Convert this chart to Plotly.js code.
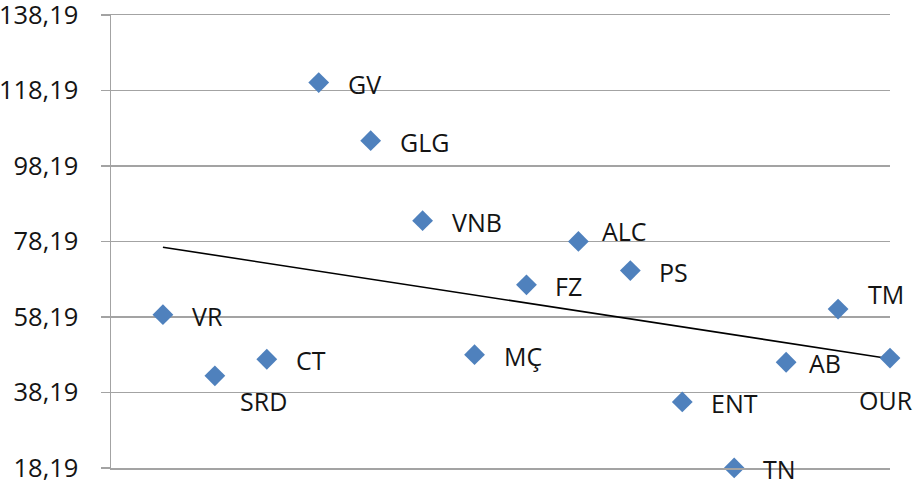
<!DOCTYPE html>
<html>
<head>
<meta charset="utf-8">
<script src="https://cdn.plot.ly/plotly-3.0.1.min.js"></script>
<style>
  html, body { margin: 0; padding: 0; background: #ffffff; }
  #chart { width: 921px; height: 489px; }
</style>
</head>
<body>
<div id="chart"></div>
<script>
// Point labels and their values, in plotting order (x = 1 … 15)
const labels = ['VR', 'SRD', 'CT', 'GV', 'GLG', 'VNB', 'MÇ', 'FZ', 'ALC', 'PS', 'ENT', 'TN', 'AB', 'TM', 'OUR'];
const xPos   = [1, 2, 3, 4, 5, 6, 7, 8, 9, 10, 11, 12, 13, 14, 15];
const values = [58.8, 42.6, 47.0, 120.3, 104.9, 83.7, 48.2, 66.7, 78.2, 70.5, 35.7, 18.2, 46.2, 60.3, 47.3];

// Y axis ticks
const yTicks = [18.19, 38.19, 58.19, 78.19, 98.19, 118.19, 138.19];

// Label placement (pixels from the marker centre; left edge of text, vertical centre)
const defaultOffset = { dx: 29, dy: 1 };
const labelOffsets = {
  'SRD': { dx: 25, dy: 25 },
  'ALC': { dx: 24, dy: -10 },
  'AB':  { dx: 23, dy: 1 },
  'TM':  { dx: 30, dy: -15 },
  'OUR': { dx: -31, dy: 42 }
};

// Least-squares linear trend through the points
function linearFit(xs, ys) {
  const n = xs.length;
  const mx = xs.reduce((a, b) => a + b, 0) / n;
  const my = ys.reduce((a, b) => a + b, 0) / n;
  let sxy = 0, sxx = 0;
  for (let i = 0; i < n; i++) {
    sxy += (xs[i] - mx) * (ys[i] - my);
    sxx += (xs[i] - mx) * (xs[i] - mx);
  }
  const slope = sxy / sxx;
  return { slope: slope, intercept: my - slope * mx };
}
const fit = linearFit(xPos, values);
const trendX = [xPos[0], xPos[xPos.length - 1]];
const trendY = trendX.map(x => fit.intercept + fit.slope * x);

const FONT = '"Open Sans", "Liberation Sans", sans-serif';
const GRID = '#a3a3a3';
const TEXT = '#141414';

const traces = [
  {
    type: 'scatter',
    mode: 'lines',
    x: trendX,
    y: trendY,
    line: { color: '#000000', width: 1.6 },
    hoverinfo: 'skip',
    showlegend: false
  },
  {
    type: 'scatter',
    mode: 'markers',
    x: xPos,
    y: values,
    text: labels,
    marker: { symbol: 'diamond', size: 16, color: '#4f81bd' },
    cliponaxis: false,
    showlegend: false
  }
];

const annotations = labels.map((lab, i) => {
  const off = labelOffsets[lab] || defaultOffset;
  return {
    x: xPos[i],
    y: values[i],
    xref: 'x',
    yref: 'y',
    text: lab,
    showarrow: false,
    xanchor: 'left',
    yanchor: 'middle',
    xshift: off.dx,
    yshift: -off.dy,
    borderpad: 0,
    borderwidth: 0,
    font: { family: FONT, size: 25, color: TEXT }
  };
});

const layout = {
  width: 921,
  height: 489,
  margin: { l: 111, r: 31, t: 15, b: 21, pad: 0 },
  paper_bgcolor: '#ffffff',
  plot_bgcolor: '#ffffff',
  separators: ',.',
  font: { family: FONT, size: 25, color: TEXT },
  xaxis: {
    range: [0, 15],
    showgrid: false,
    zeroline: false,
    showticklabels: false,
    ticks: '',
    showline: true,
    mirror: true,          // top edge doubles as the 138,19 gridline
    linecolor: GRID,
    linewidth: 1.5,
    fixedrange: true
  },
  yaxis: {
    range: [yTicks[0], yTicks[yTicks.length - 1]],
    tickmode: 'array',
    tickvals: yTicks,
    ticktext: yTicks.map(v => v.toFixed(2).replace('.', ',')),
    ticks: 'outside',
    ticklen: 9,
    tickwidth: 1.5,
    tickcolor: GRID,
    ticklabelstandoff: 17,
    ticklabeloverflow: 'allow',
    showgrid: true,
    gridcolor: GRID,
    gridwidth: 1.5,
    zeroline: false,
    showline: true,
    linecolor: GRID,
    linewidth: 1.5,
    tickfont: { family: FONT, size: 25.5, color: TEXT },
    fixedrange: true
  },
  annotations: annotations,
  showlegend: false
};

Plotly.newPlot('chart', traces, layout, { displayModeBar: false, staticPlot: true });
</script>
</body>
</html>
